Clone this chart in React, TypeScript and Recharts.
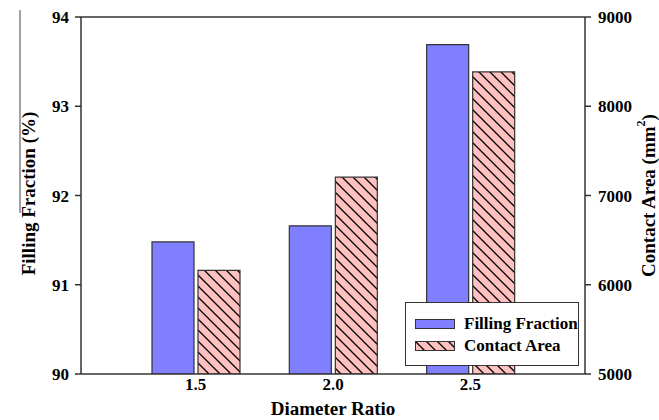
import React from 'react';
import {
  BarChart,
  Bar,
  XAxis,
  YAxis,
  Legend,
  ReferenceLine,
} from 'recharts';

// diameter ratio categories and the two measured series
const diameterRatios = ['1.5', '2.0', '2.5'];
const fillingFraction = [91.48, 91.66, 93.69]; // %
const contactArea = [6160, 7205, 8385]; // mm^2

const leftTicks = [90, 91, 92, 93, 94];
const rightTicks = [5000, 6000, 7000, 8000, 9000];

const FONT = '"Liberation Serif", "Times New Roman", serif';
const AXIS = '#333333';
const BLUE = '#7f7fff';
const PINK = '#ffc0c0';

const data = diameterRatios.map((ratio, i) => ({
  ratio,
  filling: fillingFraction[i],
  contact: contactArea[i],
}));

const tickStyle = { fill: '#000', fontSize: 17, fontWeight: 'bold', fontFamily: FONT };
const titleStyle = { fill: '#000', fontSize: 19, fontWeight: 'bold', fontFamily: FONT };

function HatchDefs({ id }: { id: string }) {
  return (
    <defs>
      <pattern id={id} patternUnits="userSpaceOnUse" width={11} height={11}>
        <rect width={11} height={11} fill={PINK} />
        <path
          d="M-1,-1 L12,12 M-1,10 L1,12 M10,-1 L12,1"
          stroke="#000"
          strokeWidth={1.3}
        />
      </pattern>
    </defs>
  );
}

// vertical axis title, rotated to read bottom-to-top
function SideTitle({ cx, cy, children }: { cx: number; cy: number; children: React.ReactNode }) {
  return (
    <text
      x={cx}
      y={cy}
      transform={`rotate(-90, ${cx}, ${cy})`}
      textAnchor="middle"
      dominantBaseline="central"
      {...titleStyle}
    >
      {children}
    </text>
  );
}

function LegendBox() {
  const row = (label: string, swatch: React.ReactNode) => (
    <div style={{ display: 'flex', alignItems: 'center', height: 22 }}>
      <svg width={40} height={10} style={{ marginRight: 9 }}>
        {swatch}
      </svg>
      <span style={{ fontFamily: FONT, fontWeight: 'bold', fontSize: 17, color: '#000' }}>{label}</span>
    </div>
  );
  return (
    <div
      style={{
        boxSizing: 'border-box',
        width: 174,
        height: 64,
        border: `1.5px solid ${AXIS}`,
        background: '#fff',
        padding: '10px 0 0 9px',
      }}
    >
      {row('Filling Fraction', <rect x={0.5} y={0.5} width={39} height={9} fill={BLUE} stroke={AXIS} />)}
      {row(
        'Contact Area',
        <>
          <HatchDefs id="hatchLegend" />
          <rect x={0.5} y={0.5} width={39} height={9} fill="url(#hatchLegend)" stroke={AXIS} />
        </>,
      )}
    </div>
  );
}

export default function App() {
  return (
    <div style={{ position: 'absolute', left: 0, top: 0 }}>
      <BarChart
        width={659}
        height={420}
        data={data}
        margin={{ top: 17, right: 0, bottom: 0, left: 0 }}
        barSize={42}
        barGap={4}
      >
        <HatchDefs id="hatchBar" />
        <XAxis
          dataKey="ratio"
          height={46}
          padding={{ left: 46, right: 46 }}
          tickLine={false}
          tickSize={0}
          tickMargin={4}
          tick={tickStyle}
          axisLine={{ stroke: AXIS, strokeWidth: 1.5 }}
          label={{
            content: ({ viewBox }: any) => (
              <text
                x={viewBox.x + viewBox.width / 2}
                y={viewBox.y + 34}
                textAnchor="middle"
                dominantBaseline="central"
                {...titleStyle}
              >
                Diameter Ratio
              </text>
            ),
          }}
        />
        <YAxis
          yAxisId="left"
          orientation="left"
          width={81}
          domain={[90, 94]}
          ticks={leftTicks}
          allowDataOverflow
          tickSize={6}
          tickMargin={6}
          tick={tickStyle}
          axisLine={{ stroke: AXIS, strokeWidth: 1.5 }}
          tickLine={{ stroke: AXIS, strokeWidth: 1.5 }}
          label={{
            content: ({ viewBox }: any) => (
              <g>
                {/* thin rule running down beside the title */}
                <line x1={20} y1={10} x2={20} y2={213} stroke="#444" strokeWidth={1} />
                <SideTitle cx={viewBox.x + 28} cy={viewBox.y + viewBox.height / 2 - 2}>
                  Filling Fraction (%)
                </SideTitle>
              </g>
            ),
          }}
        />
        <YAxis
          yAxisId="right"
          orientation="right"
          width={74}
          domain={[5000, 9000]}
          ticks={rightTicks}
          allowDataOverflow
          tickSize={6}
          tickMargin={7}
          tick={tickStyle}
          axisLine={{ stroke: AXIS, strokeWidth: 1.5 }}
          tickLine={{ stroke: AXIS, strokeWidth: 1.5 }}
          label={{
            content: ({ viewBox }: any) => (
              <SideTitle cx={viewBox.x + viewBox.width - 11} cy={viewBox.y + viewBox.height / 2}>
                Contact Area (mm
                <tspan dy={-7} fontSize={12}>2</tspan>
                <tspan dy={7}>)</tspan>
              </SideTitle>
            ),
          }}
        />
        <ReferenceLine yAxisId="left" y={94} stroke={AXIS} strokeWidth={1.5} />
        <Bar
          yAxisId="left"
          dataKey="filling"
          name="Filling Fraction"
          fill={BLUE}
          stroke={AXIS}
          strokeWidth={1.2}
          isAnimationActive={false}
        />
        <Bar
          yAxisId="right"
          dataKey="contact"
          name="Contact Area"
          fill="url(#hatchBar)"
          stroke={AXIS}
          strokeWidth={1.2}
          isAnimationActive={false}
        />
        <Legend
          layout="vertical"
          align="center"
          verticalAlign="middle"
          wrapperStyle={{ left: 405, top: 302, width: 174, height: 64 }}
          content={() => <LegendBox />}
        />
      </BarChart>
    </div>
  );
}
